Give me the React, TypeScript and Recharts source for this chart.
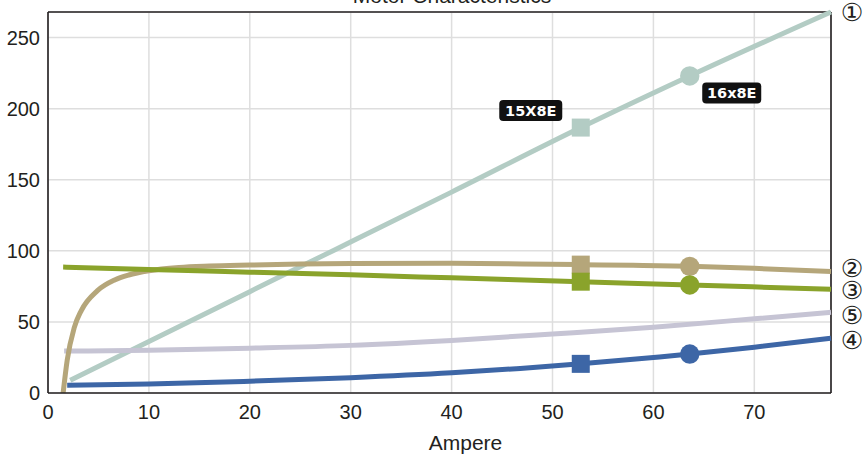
import React from 'react';
import { LineChart, Line, XAxis, YAxis, CartesianGrid, ReferenceLine } from 'recharts';

const xTicks = [0, 10, 20, 30, 40, 50, 60, 70];
const yTicks = [0, 50, 100, 150, 200, 250];
const X_MAX = 77.6;
const Y_MAX = 268;

// the two operating points that get markers
const SQUARE_AT = 52.8;
const CIRCLE_AT = 63.6;

// 1: torque-ish straight line
const line1X = [2.2, 10, 20, 28.3, 40, 52.8, 63.6, 77.6];
const line1Y = [9, 36.3, 71.3, 100.3, 141.3, 186.7, 223, 268];
// 2: efficiency curve
const line2X = [1.5, 1.9, 2.6, 3.3, 4.9, 6.6, 8, 10, 13, 16, 20, 25, 30, 40, 47, 52.8, 58, 63.6, 70, 77.6];
const line2Y = [0, 23, 46, 58, 72, 79.5, 83, 86, 88.3, 89.3, 90, 90.7, 91.1, 91.2, 90.8, 90.3, 89.8, 89.1, 87.7, 85.4];
// 3: speed
const line3X = [1.5, 10, 20, 30, 40, 52.8, 63.6, 77.6];
const line3Y = [88.6, 86.9, 85, 83.1, 81, 78.3, 76, 73];
// 4: power
const line4X = [1.9, 10, 20, 30, 40, 46.8, 52.8, 60, 63.6, 70, 77.6];
const line4Y = [5.5, 6.3, 8.3, 10.8, 14.2, 17.3, 20.5, 25, 27.4, 32.2, 38.5];
// 5: current draw
const line5X = [1.6, 10, 20, 30, 40, 50, 60, 70, 77.6];
const line5Y = [29.5, 30, 31.5, 33.5, 37, 41.5, 46.3, 52.2, 56.8];

const zip = (xs: number[], ys: number[]) => xs.map((x, i) => ({ x, y: ys[i] }));

const series = [
  { id: 's1', tag: '①', color: '#b3ccc4', pts: zip(line1X, line1Y), markers: true, squareTag: '15X8E', circleTag: '16x8E', dy: 0 },
  { id: 's5', tag: '⑤', color: '#c6c4d4', pts: zip(line5X, line5Y), markers: false, dy: 3 },
  { id: 's4', tag: '④', color: '#3d66a6', pts: zip(line4X, line4Y), markers: true, dy: 2 },
  { id: 's2', tag: '②', color: '#b5a67a', pts: zip(line2X, line2Y), markers: true, dy: -3 },
  { id: 's3', tag: '③', color: '#8aa32b', pts: zip(line3X, line3Y), markers: true, dy: 1.5 },
];

const ink = '#231f20';

const Tag = ({ x, y, text, w }: { x: number; y: number; text: string; w: number }) => (
  <g>
    <rect x={x - w / 2} y={y - 10.5} width={w} height={21} rx={4} fill="#111" />
    <text x={x} y={y + 0.5} textAnchor="middle" dominantBaseline="central" fill="#fff"
      fontFamily="DejaVu Sans" fontWeight="bold" fontSize={14.5}>{text}</text>
  </g>
);

const makeDot = (s: any) => (props: any) => {
  const { cx, cy, payload, index } = props;
  if (!s.markers) return <g key={`d${index}`} />;
  if (payload.x === SQUARE_AT) {
    return (
      <g key={`d${index}`}>
        <rect x={cx - 9} y={cy - 9} width={18} height={18} fill={s.color} />
        {s.squareTag && <Tag x={cx - 50} y={cy - 17} text={s.squareTag} w={63} />}
      </g>
    );
  }
  if (payload.x === CIRCLE_AT) {
    return (
      <g key={`d${index}`}>
        <circle cx={cx} cy={cy} r={9.7} fill={s.color} />
        {s.circleTag && <Tag x={cx + 42} y={cy + 17} text={s.circleTag} w={59} />}
      </g>
    );
  }
  return <g key={`d${index}`} />;
};

const makeEndLabel = (s: any) => (props: any) => {
  const { x, y, index } = props;
  if (index !== s.pts.length - 1) return null;
  return (
    <text x={x + 21} y={y + s.dy} textAnchor="middle" dominantBaseline="central"
      fontFamily="DejaVu Sans" fontSize={25} fill={ink}>{s.tag}</text>
  );
};

export default function App() {
  return (
    <div style={{ position: 'absolute', left: 0, top: 0, width: 865, height: 458, fontFamily: '"Liberation Sans", Arial, sans-serif' }}>
      <div style={{ position: 'absolute', left: 40, width: 824, top: -16, lineHeight: '24px', textAlign: 'center', fontSize: 21, color: ink, whiteSpace: 'nowrap' }}>
        Motor Characteristics
      </div>
      <LineChart width={865} height={458} margin={{ top: 12, right: 34, bottom: 0, left: 0 }} style={{ overflow: 'visible' }}>
        <CartesianGrid stroke="#dedede" strokeWidth={1.5} />
        <XAxis
          dataKey="x"
          type="number"
          domain={[0, X_MAX]}
          ticks={xTicks}
          height={65}
          tickLine={false}
          tickMargin={6}
          axisLine={{ stroke: ink, strokeWidth: 1.6 }}
          tick={{ fill: ink, fontSize: 20 }}
          label={{ value: 'Ampere', position: 'insideBottom', offset: 8, dx: 26, fill: ink, fontSize: 21 }}
        />
        <YAxis
          type="number"
          domain={[0, Y_MAX]}
          ticks={yTicks}
          width={48}
          tickLine={false}
          axisLine={{ stroke: ink, strokeWidth: 1.6 }}
          tick={{ fill: ink, fontSize: 20 }}
        />
        <ReferenceLine y={Y_MAX} stroke={ink} strokeWidth={1.6} ifOverflow="visible" />
        <ReferenceLine x={X_MAX} stroke={ink} strokeWidth={1.6} ifOverflow="visible" />
        {series.map((s) => (
          <Line
            key={s.id}
            data={s.pts}
            dataKey="y"
            type="monotone"
            stroke={s.color}
            strokeWidth={5}
            dot={makeDot(s)}
            activeDot={false}
            label={makeEndLabel(s)}
            isAnimationActive={false}
          />
        ))}
      </LineChart>
    </div>
  );
}
